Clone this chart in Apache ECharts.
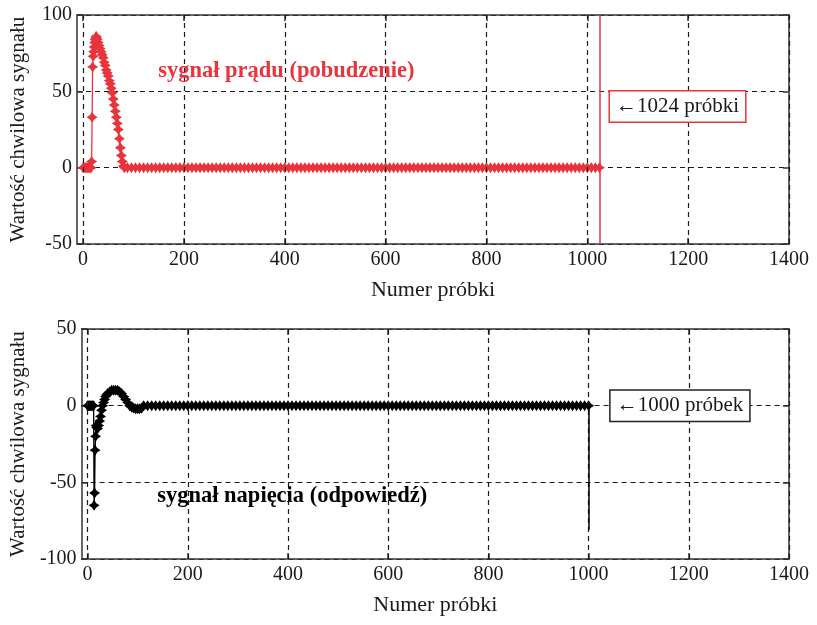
<!DOCTYPE html>
<html>
<head>
<meta charset="utf-8">
<script src="https://cdn.jsdelivr.net/npm/echarts@6/dist/echarts.min.js"></script>
<style>
  html, body { margin: 0; padding: 0; background: #fff; }
  #chart { width: 817px; height: 625px; }
</style>
</head>
<body>
<div id="chart"></div>
<script>
// Sample index ticks shared by both panels
const xTicks = [0, 200, 400, 600, 800, 1000, 1200, 1400];

// Current signal (excitation): pulse samples as [sample, value]
const currentPulse = [
  [0, 0], [2, 0], [4, 0], [6, 0], [8, 0], [10, 0], [12, 0], [14, 0], [16, 0],
  [17, 4], [18, 33], [19, 66], [20, 73], [21, 76], [22, 79], [23, 82], [24, 84],
  [25, 85], [26, 86], [27, 85], [28, 84], [30, 82], [32, 80], [34, 78], [36, 76],
  [38, 74], [40, 72], [42, 69], [44, 67], [46, 64], [48, 62], [50, 60], [52, 57],
  [54, 55], [56, 52], [58, 49], [60, 45], [62, 41], [64, 37], [66, 33], [68, 29],
  [70, 25], [72, 19], [74, 13], [76, 8], [78, 4], [80, 1], [82, 0]
];
// Current signal tail: samples 88..1024, every 8th sample (118 values, 20 per row)
const currentTailStart = 88;
const currentTailStep = 8;
const currentTail = [
  0,0,0,0,0,0,0,0,0,0,0,0,0,0,0,0,0,0,0,0,
  0,0,0,0,0,0,0,0,0,0,0,0,0,0,0,0,0,0,0,0,
  0,0,0,0,0,0,0,0,0,0,0,0,0,0,0,0,0,0,0,0,
  0,0,0,0,0,0,0,0,0,0,0,0,0,0,0,0,0,0,0,0,
  0,0,0,0,0,0,0,0,0,0,0,0,0,0,0,0,0,0,0,0,
  0,0,0,0,0,0,0,0,0,0,0,0,0,0,0,0,0,0
];

// Voltage signal (response): transient samples as [sample, value]
const voltagePulse = [
  [0, 0], [2, 0], [4, 0], [6, 0], [8, 0], [10, 0], [12, 0],
  [13, -65], [14, -57], [15, -29], [16, -20], [17, -13], [18, -14], [20, -15],
  [22, -13], [24, -10], [26, -7], [28, -3], [30, 0], [32, 2], [34, 4], [36, 6],
  [38, 7], [40, 8], [44, 9], [48, 10], [52, 10], [56, 10], [60, 10], [64, 9],
  [68, 8], [72, 6], [76, 4], [80, 2], [84, 0], [88, -1], [92, -1.5], [96, -2],
  [100, -2], [104, -2], [108, -1.5], [112, 0]
];
// Voltage signal tail: samples 120..1000, every 8th sample (111 values, 20 per row)
const voltageTailStart = 120;
const voltageTailStep = 8;
const voltageTail = [
  0,0,0,0,0,0,0,0,0,0,0,0,0,0,0,0,0,0,0,0,
  0,0,0,0,0,0,0,0,0,0,0,0,0,0,0,0,0,0,0,0,
  0,0,0,0,0,0,0,0,0,0,0,0,0,0,0,0,0,0,0,0,
  0,0,0,0,0,0,0,0,0,0,0,0,0,0,0,0,0,0,0,0,
  0,0,0,0,0,0,0,0,0,0,0,0,0,0,0,0,0,0,0,0,
  0,0,0,0,0,0,0,0,0,0,0
];

const RED = '#e8343c';
const INK = '#1a1a1a';
const FONT = 'Liberation Serif';
// Four-pointed star marker
const STAR = 'path://M0,-10L4,-4L10,0L4,4L0,10L-4,4L-10,0L-4,-4Z';

function withTail(pulse, start, step, tail) {
  return pulse.concat(tail.map((v, i) => [start + i * step, v]));
}
const currentData = withTail(currentPulse, currentTailStart, currentTailStep, currentTail);
const voltageData = withTail(voltagePulse, voltageTailStart, voltageTailStep, voltageTail);

const gridDash = { color: INK, width: 1.2, type: [5, 4] };
const frame = { show: true, onZero: false, lineStyle: { color: '#333', width: 1.5 } };
const plain = v => String(v);

function xAxes(gridIndex) {
  const base = {
    gridIndex, type: 'value', min: -12, max: 1400,
    axisLine: frame, splitLine: { show: false },
    axisTick: { show: true, inside: true, length: 6, customValues: xTicks, lineStyle: { color: '#333', width: 1.5 } }
  };
  return [
    Object.assign({}, base, {
      position: 'bottom',
      name: 'Numer próbki', nameLocation: 'middle', nameGap: 35,
      nameTextStyle: { fontFamily: FONT, fontSize: 22, color: INK },
      axisLabel: { show: true, customValues: xTicks, formatter: plain, margin: 6, fontFamily: FONT, fontSize: 20, color: INK }
    }),
    Object.assign({}, base, { position: 'top', axisLabel: { show: false } })
  ];
}

function yAxes(gridIndex, min, max) {
  const base = {
    gridIndex, type: 'value', min, max, interval: 50,
    axisLine: frame,
    axisTick: { show: true, inside: true, length: 6, lineStyle: { color: '#333', width: 1.5 } }
  };
  return [
    Object.assign({}, base, {
      position: 'left',
      name: 'Wartość chwilowa sygnału', nameLocation: 'middle', nameGap: 48,
      nameTextStyle: { fontFamily: FONT, fontSize: 21, color: INK },
      splitLine: { show: true, lineStyle: gridDash },
      axisLabel: { margin: 5, formatter: plain, fontFamily: FONT, fontSize: 20, color: INK }
    }),
    Object.assign({}, base, { position: 'right', splitLine: { show: false }, axisLabel: { show: false } })
  ];
}

function gridLineSeries(xIdx, yIdx) {
  return {
    type: 'line', xAxisIndex: xIdx, yAxisIndex: yIdx, z: 1,
    data: [[0, 0]], symbol: 'none', lineStyle: { opacity: 0 }, silent: true,
    markLine: {
      silent: true, symbol: 'none', label: { show: false },
      lineStyle: gridDash,
      data: xTicks.map(v => ({ xAxis: v }))
    }
  };
}

function note(coord, text, opts) {
  return {
    coord, value: text, symbolSize: 0,
    label: Object.assign({
      show: true, position: 'right', distance: 0, formatter: text,
      fontFamily: FONT, fontSize: 21, color: INK
    }, opts || {})
  };
}

const chart = echarts.init(document.getElementById('chart'));
chart.setOption({
  animation: false,
  backgroundColor: '#fff',
  grid: [
    { left: 77, right: 28, top: 15, height: 229 },
    { left: 77, right: 28, top: 329, height: 230 }
  ],
  xAxis: xAxes(0).concat(xAxes(1)),
  yAxis: yAxes(0, -50, 100).concat(yAxes(1, -100, 50)),
  series: [
    gridLineSeries(0, 0),
    gridLineSeries(2, 2),
    {
      name: 'sygnał prądu', type: 'line', xAxisIndex: 0, yAxisIndex: 0, z: 3,
      data: currentData,
      symbol: STAR, symbolSize: 11,
      itemStyle: { color: RED },
      lineStyle: { color: RED, width: 1.3 },
      markLine: {
        silent: true, symbol: 'none', label: { show: false },
        lineStyle: { color: RED, width: 1.5, type: 'solid' },
        data: [{ xAxis: 1024 }]
      },
      markPoint: {
        silent: true,
        data: [
          note([1045, 40], '←1024 próbki', {
            backgroundColor: '#fff', borderColor: RED, borderWidth: 1.5,
            padding: [5, 6, 4, 6]
          }),
          note([149, 63], 'sygnał prądu (pobudzenie)', {
            color: RED, fontWeight: 'bold', fontSize: 22.5
          })
        ]
      }
    },
    {
      name: 'sygnał napięcia', type: 'line', xAxisIndex: 2, yAxisIndex: 2, z: 3,
      data: voltageData,
      symbol: STAR, symbolSize: 11,
      itemStyle: { color: '#000' },
      lineStyle: { color: '#000', width: 1.3 },
      markLine: {
        silent: true, symbol: 'none', label: { show: false },
        lineStyle: { color: '#000', width: 1.5, type: 'solid' },
        data: [[{ coord: [1000, 0] }, { coord: [1000, -81] }]]
      },
      markPoint: {
        silent: true,
        data: [
          note([1044, 0], '←1000 próbek', {
            backgroundColor: '#fff', borderColor: '#222', borderWidth: 1.5,
            padding: [5, 6, 4, 6]
          }),
          note([139, -59], 'sygnał napięcia (odpowiedź)', {
            color: '#000', fontWeight: 'bold', fontSize: 22.5
          })
        ]
      }
    }
  ]
});
</script>
</body>
</html>
